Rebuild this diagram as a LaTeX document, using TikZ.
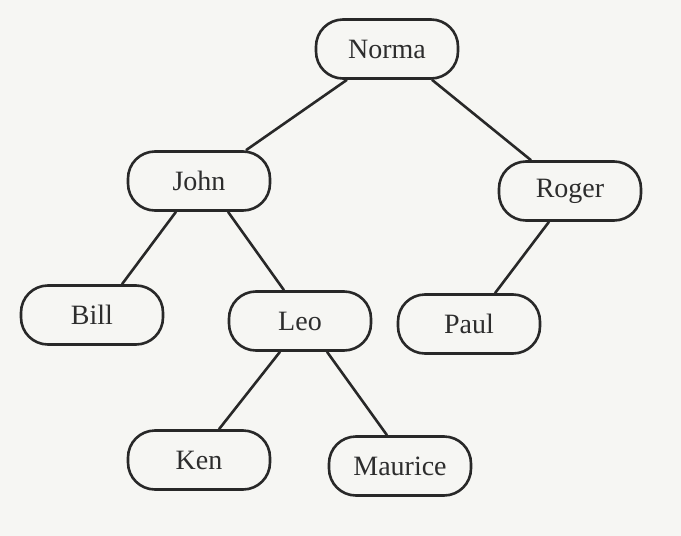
\documentclass[tikz,border=0pt]{standalone}
\usepackage{fontspec}
\setmainfont{Liberation Serif}
\definecolor{paper}{RGB}{246,246,243}
\definecolor{ink}{RGB}{40,40,40}
\definecolor{textink}{RGB}{45,45,45}
\begin{document}
\begin{tikzpicture}[x=1pt,y=-1pt,
  person/.style={draw=ink, line width=2.6pt, rounded corners=27pt,
    minimum width=142pt, minimum height=59pt, inner sep=0pt,
    font=\fontsize{28}{32}\selectfont, text=textink},
  branch/.style={draw=ink, line width=2.6pt}]
\fill[paper] (0,0) rectangle (681,536);
\useasboundingbox (0,0) rectangle (681,536);

% tree nodes
\node[person] (norma)   at (387,49)  {Norma};
\node[person] (john)    at (199,181) {John};
\node[person] (roger)   at (570,191) {Roger};
\node[person] (bill)    at (92,315)  {Bill};
\node[person] (leo)     at (300,321) {Leo};
\node[person] (paul)    at (469,324) {Paul};
\node[person] (ken)     at (199,460) {Ken};
\node[person] (maurice) at (400,466) {Maurice};

% branches
\draw[branch] ([xshift=-40pt]norma.south) -- ([xshift=47pt]john.north);
\draw[branch] ([xshift=45pt]norma.south)  -- ([xshift=-39pt]roger.north);
\draw[branch] ([xshift=-23pt]john.south)  -- ([xshift=30pt]bill.north);
\draw[branch] ([xshift=29pt]john.south)   -- ([xshift=-16pt]leo.north);
\draw[branch] ([xshift=-21pt]roger.south) -- ([xshift=26pt]paul.north);
\draw[branch] ([xshift=-20pt]leo.south)   -- ([xshift=20pt]ken.north);
\draw[branch] ([xshift=27pt]leo.south)    -- ([xshift=-13pt]maurice.north);
\end{tikzpicture}
\end{document}
